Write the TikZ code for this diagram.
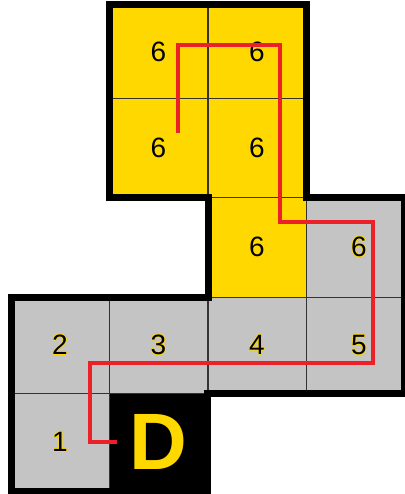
\documentclass[tikz,border=0pt]{standalone}
\usepackage{fontspec}
\setmainfont{Liberation Sans}
\usepackage{xcolor}
\definecolor{cellgold}{RGB}{255,216,0}
\definecolor{cellgrey}{RGB}{196,196,196}
\definecolor{routered}{RGB}{236,32,40}
% digit with a thin gold rim, as on the grey cells
\newcommand{\rimdigit}[1]{%
  \makebox[0pt][l]{\color{cellgold}\kern-.9pt#1}%
  \makebox[0pt][l]{\color{cellgold}\kern.9pt#1}%
  \makebox[0pt][l]{\color{cellgold}\raisebox{.9pt}{#1}}%
  \makebox[0pt][l]{\color{cellgold}\raisebox{-.9pt}{#1}}#1}

\begin{document}
\begin{tikzpicture}[x=1pt, y=-1pt,
  cell/.style={draw=black!80, line width=1pt, inner sep=0pt, outer sep=0pt,
    minimum width=98pt, font=\fontsize{28}{30}\selectfont},
  gold/.style={cell, fill=cellgold},
  grey/.style={cell, fill=cellgrey},
  dock/.style={cell, fill=black, text=cellgold, font=\fontsize{80}{80}\selectfont\bfseries},
  route/.style={routered, line width=4pt, line join=miter}]
\useasboundingbox (0,0) rectangle (404,494);
% top block
\node[gold, minimum height=94pt] (r0c1) at (158.5,52) {6};
\node[gold, minimum height=94pt] (r0c2) at (257,52) {6};
\node[gold, minimum height=98pt] (r1c1) at (158.5,148) {6};
\node[gold, minimum height=98pt] (r1c2) at (257,148) {6};
% middle row
\node[gold, minimum height=100pt] (r2c2) at (257,247) {6};
\node[grey, minimum height=100pt] (r2c3) at (355,247) {\hspace*{8pt}\rimdigit{6}};
% long row
\node[grey, minimum height=96pt] (r3c0) at (60,345) {\rimdigit{2}};
\node[grey, minimum height=96pt] (r3c1) at (158.5,345) {\rimdigit{3}};
\node[grey, minimum height=96pt] (r3c2) at (257,345) {\rimdigit{4}};
\node[grey, minimum height=96pt] (r3c3) at (355,345) {\hspace*{8pt}\rimdigit{5}};
% bottom row
\node[grey, minimum height=98pt] (r4c0) at (60,442) {\rimdigit{1}};
\node[dock, minimum height=98pt] (r4c1) at (158.5,442) {D};
% outline
\draw[line width=7pt, line join=miter]
  (r0c1.north west) -- (r0c2.north east) -- (r2c3.north west)
  -- (r2c3.north east) -- (r3c3.south east) -- (r4c1.north east)
  -- (r4c1.south east) -- (r4c0.south west) -- (r3c0.north west)
  -- (r2c2.south west) -- (r2c2.north west) -- (r1c1.south west) -- cycle;
% route
\coordinate (pstart) at (178,133);
\coordinate (pend) at (117,442);
\draw[route] (pstart) -- (178,45) -- (280,45) -- (280,222) -- (373,222)
  -- (373,363) -- (90,363) -- (90,442) -- (pend);
\end{tikzpicture}
\end{document}
